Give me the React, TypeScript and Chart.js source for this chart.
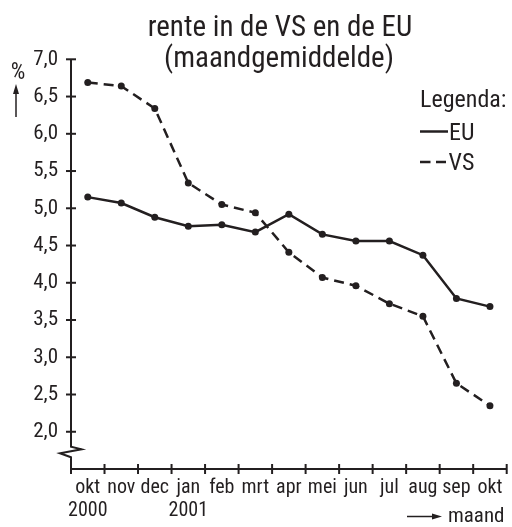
import React, { useEffect, useRef } from "react";
import { Chart, registerables } from "chart.js";

Chart.register(...registerables);

const months = ["okt", "nov", "dec", "jan", "feb", "mrt", "apr", "mei", "jun", "jul", "aug", "sep", "okt"];
const years = ["2000", "", "", "2001", "", "", "", "", "", "", "", "", ""];
const euValues = [5.15, 5.07, 4.88, 4.76, 4.78, 4.68, 4.92, 4.65, 4.56, 4.56, 4.37, 3.79, 3.68];
const vsValues = [6.69, 6.64, 6.34, 5.34, 5.05, 4.94, 4.41, 4.07, 3.96, 3.72, 3.55, 2.65, 2.35];
const yTickValues = [2.0, 2.5, 3.0, 3.5, 4.0, 4.5, 5.0, 5.5, 6.0, 6.5, 7.0];

const titleLines = ["rente in de VS en de EU", "(maandgemiddelde)"];
const legendTitle = "Legenda:";
const seriesNames = ["EU", "VS"];
const yUnit = "%";
const xUnit = "maand";

const INK = "#231f20";
const FONT = "'Roboto Condensed', 'Liberation Sans Narrow', 'DejaVu Sans Condensed', sans-serif";

const decorPlugin = {
  id: "decor",
  afterDraw(chart: any) {
    const { ctx, scales, chartArea } = chart;
    const x = scales.x;
    const y = scales.y;
    const ax = chartArea.left;
    const bottom = chartArea.bottom;
    const top = y.getPixelForValue(7);
    ctx.save();
    ctx.strokeStyle = INK;
    ctx.fillStyle = INK;
    ctx.lineWidth = 2;
    ctx.setLineDash([]);
    // y axis with break
    ctx.beginPath();
    ctx.moveTo(ax, top);
    ctx.lineTo(ax, bottom - 22.3);
    ctx.lineTo(ax + 10.5, bottom - 19.7);
    ctx.lineTo(ax - 11, bottom - 15.7);
    ctx.lineTo(ax, bottom - 11.7);
    ctx.lineTo(ax, bottom);
    ctx.stroke();
    for (const v of yTickValues) {
      const py = y.getPixelForValue(v);
      ctx.beginPath();
      ctx.moveTo(ax - 5, py);
      ctx.lineTo(ax + 5, py);
      ctx.stroke();
    }
    // x axis
    const xEnd = x.getPixelForValue(months.length - 0.5);
    ctx.beginPath();
    ctx.moveTo(ax - 1, bottom);
    ctx.lineTo(xEnd, bottom);
    ctx.stroke();
    for (let i = 0; i <= months.length; i++) {
      const px = x.getPixelForValue(i - 0.5);
      ctx.beginPath();
      ctx.moveTo(px, bottom - 5);
      ctx.lineTo(px, bottom + 5);
      ctx.stroke();
    }

    ctx.textBaseline = "alphabetic";
    // title
    ctx.font = `29px ${FONT}`;
    ctx.textAlign = "center";
    ctx.fillText(titleLines[0], 280, 36);
    ctx.fillText(titleLines[1], 279, 66.5);

    // y unit
    ctx.font = `23px ${FONT}`;
    ctx.fillText(yUnit, 18, 78.5);
    ctx.lineWidth = 1.5;
    ctx.beginPath();
    ctx.moveTo(16, 117);
    ctx.lineTo(16, 90);
    ctx.stroke();
    ctx.beginPath();
    ctx.moveTo(16, 84);
    ctx.lineTo(13, 94);
    ctx.lineTo(19, 94);
    ctx.closePath();
    ctx.fill();

    // x unit
    ctx.beginPath();
    ctx.moveTo(407, 516.5);
    ctx.lineTo(434, 516.5);
    ctx.stroke();
    ctx.beginPath();
    ctx.moveTo(442, 516.5);
    ctx.lineTo(432, 513.5);
    ctx.lineTo(432, 519.5);
    ctx.closePath();
    ctx.fill();
    ctx.font = `21px ${FONT}`;
    ctx.textAlign = "left";
    ctx.fillText(xUnit, 448, 522);

    // legend
    ctx.font = `24px ${FONT}`;
    ctx.fillText(legendTitle, 420, 106.7);
    ctx.lineWidth = 2.5;
    ctx.beginPath();
    ctx.moveTo(420, 131.5);
    ctx.lineTo(448, 131.5);
    ctx.stroke();
    ctx.fillText(seriesNames[0], 449, 140);
    ctx.beginPath();
    ctx.moveTo(420, 162);
    ctx.lineTo(430.5, 162);
    ctx.moveTo(436, 162);
    ctx.lineTo(446, 162);
    ctx.stroke();
    ctx.fillText(seriesNames[1], 448.5, 170);
    ctx.restore();
  },
};

export default function App() {
  const ref = useRef<HTMLCanvasElement | null>(null);
  useEffect(() => {
    document.body.style.margin = "0";
    const canvas = ref.current;
    if (!canvas) return;
    const labels = months.map((m, i) => (years[i] ? [m, years[i]] : m));
    const chart = new Chart(canvas, {
      type: "line",
      data: {
        labels,
        datasets: [
          {
            label: seriesNames[0],
            data: euValues,
            borderColor: INK,
            backgroundColor: INK,
            borderWidth: 2.5,
            pointRadius: 3.5,
            pointBorderWidth: 0,
            pointBackgroundColor: INK,
            tension: 0,
          },
          {
            label: seriesNames[1],
            data: vsValues,
            borderColor: INK,
            backgroundColor: INK,
            borderWidth: 2.5,
            borderDash: [10, 6],
            pointRadius: 3.5,
            pointBorderWidth: 0,
            pointBackgroundColor: INK,
            tension: 0,
          },
        ],
      },
      options: {
        animation: false,
        responsive: true,
        maintainAspectRatio: false,
        layout: { padding: { top: 59.3, right: 5.3, left: 0, bottom: 0 } },
        plugins: {
          legend: { display: false },
          tooltip: { enabled: false },
          title: { display: false },
        },
        scales: {
          x: {
            type: "category",
            offset: true,
            grid: { display: false, drawTicks: false, offset: true },
            border: { display: false },
            ticks: {
              color: INK,
              font: { family: FONT, size: 20, lineHeight: 1.15 },
              padding: 7.5,
              maxRotation: 0,
              autoSkip: false,
            },
            afterFit: (s: any) => {
              s.height = 58;
            },
          },
          y: {
            type: "linear",
            min: 1.5,
            max: 7,
            grid: { display: false, drawTicks: false },
            border: { display: false },
            ticks: {
              stepSize: 0.5,
              color: INK,
              font: { family: FONT, size: 21 },
              padding: 13,
              callback: (v: any) => (Number(v) < 1.9 ? "" : Number(v).toFixed(1).replace(".", ",")),
            },
            afterFit: (s: any) => {
              s.width = 71;
            },
          },
        },
      },
      plugins: [decorPlugin],
    });
    return () => chart.destroy();
  }, []);
  return (
    <div style={{ width: 512, height: 527, position: "relative" }}>
      <canvas ref={ref} />
    </div>
  );
}
